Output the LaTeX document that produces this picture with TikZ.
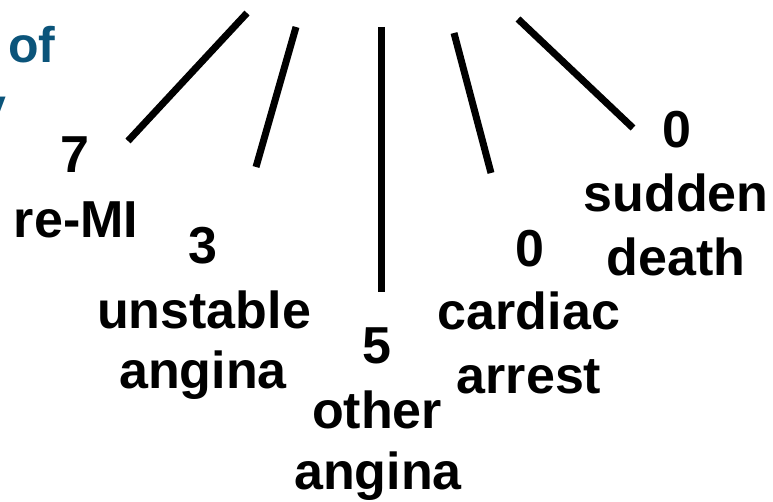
\documentclass[tikz,border=0pt]{standalone}
\usepackage{fontspec}
\setmainfont{Liberation Sans}
\definecolor{titleblue}{RGB}{11,84,122}
\begin{document}
\begin{tikzpicture}[x=1pt,y=-1pt,
  lbl/.style={font=\fontsize{52}{62}\selectfont\bfseries, inner sep=0pt, anchor=base},
  ttl/.style={font=\fontsize{50}{60}\selectfont\bfseries, text=titleblue, inner sep=0pt, anchor=base},
  branch/.style={line width=7pt, black}]
\useasboundingbox (0,0) rectangle (773,502);
\clip (0,0) rectangle (773,502);
% title fragments
\node[ttl, anchor=base west] (of) at (8,63) {of};
\node[ttl, anchor=base east] (y) at (7,124) {y};
% branches
\coordinate (a1) at (247,13);  \coordinate (a2) at (128,141);
\coordinate (b1) at (296,27);  \coordinate (b2) at (256,167);
\coordinate (c1) at (381,27);  \coordinate (c2) at (381,292);
\coordinate (d1) at (454,33);  \coordinate (d2) at (491,173);
\coordinate (e1) at (518,19);  \coordinate (e2) at (633,128);
\draw[branch] (a1) -- (a2);
\draw[branch] (b1) -- (b2);
\draw[branch] (c1) -- (c2);
\draw[branch] (d1) -- (d2);
\draw[branch] (e1) -- (e2);
% labels
\node[lbl] (n1) at (75,173) {7};
\node[lbl] (t1) at (76,238) {re-MI};
\node[lbl] (n2) at (203,264) {3};
\node[lbl] (t2a) at (204,328) {unstable};
\node[lbl] (t2b) at (203,388) {angina};
\node[lbl] (n3) at (377,363) {5};
\node[lbl] (t3a) at (377,428) {other};
\node[lbl] (t3b) at (378,489) {angina};
\node[lbl] (n4) at (530,267) {0};
\node[lbl] (t4a) at (529,330) {cardiac};
\node[lbl] (t4b) at (529,393) {arrest};
\node[lbl] (n5) at (677,148) {0};
\node[lbl] (t5a) at (676,212) {sudden};
\node[lbl] (t5b) at (676,276) {death};
\end{tikzpicture}
\end{document}
